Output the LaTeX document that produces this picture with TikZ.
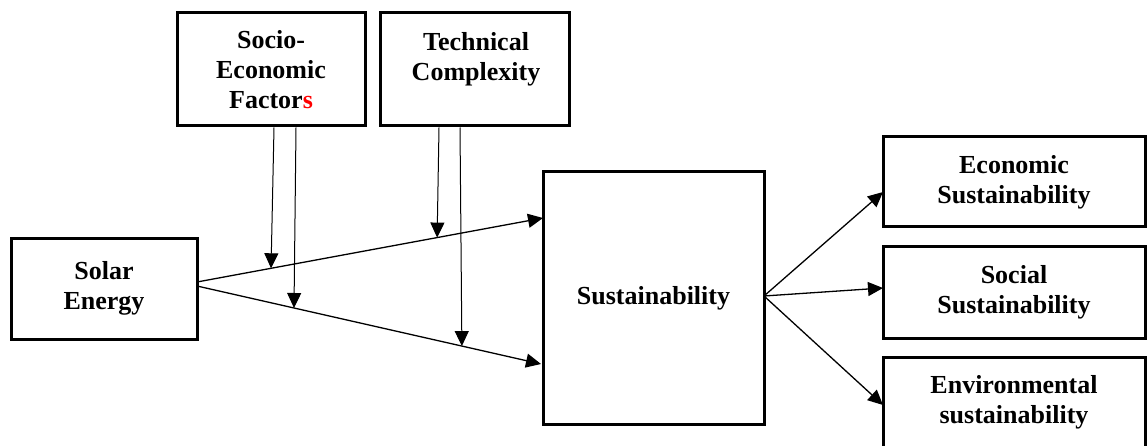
\documentclass[tikz,border=0pt]{standalone}
\usepackage{fontspec}
\setmainfont{Liberation Serif}
\usetikzlibrary{arrows.meta,calc}
\begin{document}
\begin{tikzpicture}[x=1pt,y=-1pt,
  box/.style={draw=black,line width=3pt,rectangle,inner sep=0pt,outer sep=0pt,
    align=center,font=\fontsize{26}{30}\selectfont\bfseries},
  txt/.style={inner sep=0pt,align=center,font=\fontsize{26}{30}\selectfont\bfseries},
  arr/.style={line width=1.3pt,-{Triangle[length=15pt,width=14pt]}},
  varr/.style={line width=1pt,-{Triangle[length=15pt,width=14pt]}}]
\useasboundingbox (0,0) rectangle (1147,446);
\begin{scope}
\clip (0,0) rectangle (1147,446);
% boxes (centres from measured edges)
\node[box,minimum width=188pt,minimum height=113pt] (soc) at (271,69.5)
  {Socio-\\Economic\\Factor\textcolor{red}{s}};
\node[box,minimum width=189pt,minimum height=113pt] (tech) at (474.5,69.5) {};
\node[txt] (techtxt) at (476,59.5) {Technical\\Complexity};
\node[box,minimum width=186pt,minimum height=101pt] (se) at (104,288.5) {Solar\\Energy};
\node[box,minimum width=221pt,minimum height=252pt] (sus) at (653.5,298) {Sustainability};
\node[box,minimum width=262pt,minimum height=90pt] (eco) at (1014,182) {Economic\\Sustainability};
\node[box,minimum width=262pt,minimum height=92pt] (socs) at (1014,292) {Social\\Sustainability};
\node[box,minimum width=262pt,minimum height=91pt] (env) at (1014,402.5) {Environmental\\sustainability};

% main paths from Solar Energy to Sustainability
\coordinate (s1) at (197,282);
\coordinate (s2) at (197,286);
\coordinate (e1) at (543,218);
\coordinate (e2) at (541,364);
\draw[arr] (s1) -- (e1) coordinate[pos=0.214] (m1) coordinate[pos=0.694] (m3);
\draw[arr] (s2) -- (e2) coordinate[pos=0.282] (m2) coordinate[pos=0.770] (m4);

% moderating arrows
\coordinate (a1) at (274,127.5);
\coordinate (a2) at (296,127.5);
\coordinate (a3) at (439,127.5);
\coordinate (a4) at (460,127.5);
\draw[varr] (a1) -- (m1);
\draw[varr] (a2) -- (m2);
\draw[varr] (a3) -- (m3);
\draw[varr] (a4) -- (m4);

% outcome arrows
\coordinate (o) at (764,296);
\draw[arr] (o) -- (eco.west |- 0,192);
\draw[arr] (o) -- (socs.west |- 0,288);
\draw[arr] (o) -- (env.west |- 0,405);
\end{scope}
\end{tikzpicture}
\end{document}
